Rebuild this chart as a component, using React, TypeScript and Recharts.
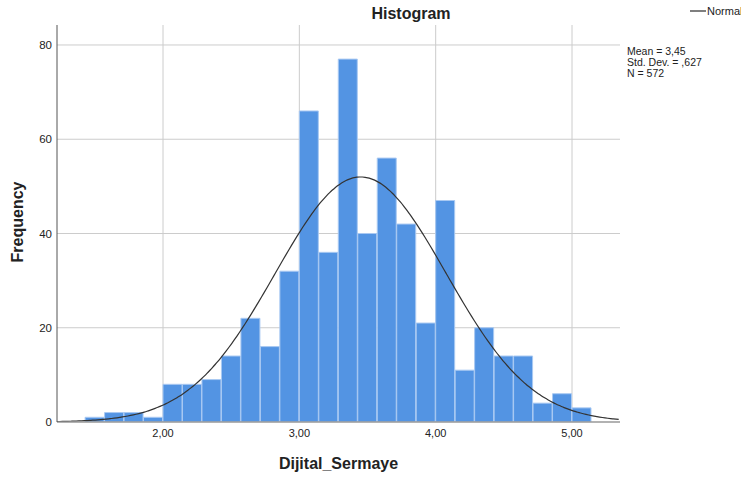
import React from "react";
import { ComposedChart, Bar, Line, XAxis, YAxis, CartesianGrid } from "recharts";

const binWidth = 1 / 7;
const firstBinStart = 10 / 7; // 1.4286
const counts = [1, 2, 2, 1, 8, 8, 9, 14, 22, 16, 32, 66, 36, 77, 40, 56, 42, 21, 47, 11, 20, 14, 14, 4, 6, 3];
const xTicks = [2, 3, 4, 5];
const yTicks = [0, 20, 40, 60, 80];
const mean = 3.45;
const stdDev = 0.627;
const nTotal = 572;
const statLines = ["Mean = 3,45", "Std. Dev. = ,627", "N = 572"];
const xDomain: [number, number] = [1.2225, 5.352];
const yDomain: [number, number] = [0, 84.24];

const barData = counts.map((c, i) => ({ x: firstBinStart + (i + 0.5) * binWidth, count: c }));

const curveData: { x: number; y: number }[] = [];
for (let x = xDomain[0]; x <= xDomain[1] + 1e-9; x += 0.02) {
  const z = (x - mean) / stdDev;
  curveData.push({ x, y: (nTotal * binWidth * Math.exp(-0.5 * z * z)) / (stdDev * Math.sqrt(2 * Math.PI)) });
}

const FONT = "'Liberation Sans', Arial, sans-serif";

export default function App() {
  return (
    <div style={{ position: "absolute", left: 0, top: 0, width: 741, height: 478, background: "#fff", fontFamily: FONT }}>
      <ComposedChart
        width={741}
        height={478}
        data={barData}
        margin={{ top: 25, right: 121, bottom: 0, left: 0 }}
        barCategoryGap={0}
        barGap={0}
      >
        <CartesianGrid stroke="#cccccc" strokeWidth={1} verticalValues={xTicks} horizontalValues={[20, 40, 60, 80]} />
        <XAxis
          dataKey="x"
          type="number"
          domain={xDomain}
          allowDataOverflow
          ticks={xTicks}
          tickFormatter={(v: number) => v.toFixed(2).replace(".", ",")}
          height={56}
          tickLine={false}
          tickSize={0}
          tickMargin={7}
          axisLine={{ stroke: "#999999", strokeWidth: 1.5 }}
          tick={{ fill: "#222", fontSize: 11, fontFamily: FONT }}
        />
        <XAxis xAxisId="c" dataKey="x" type="number" domain={xDomain} allowDataOverflow hide />
        <YAxis
          type="number"
          domain={yDomain}
          allowDataOverflow
          ticks={yTicks}
          width={57}
          tickLine={false}
          tickSize={0}
          tickMargin={5}
          axisLine={{ stroke: "#555555", strokeWidth: 1 }}
          tick={{ fill: "#222", fontSize: 11.5, fontFamily: FONT }}
        />
        <Bar dataKey="count" fill="#5394e3" stroke="#a9c9f2" strokeWidth={1} isAnimationActive={false} />
        <Line
          xAxisId="c"
          data={curveData}
          dataKey="y"
          type="monotone"
          dot={false}
          stroke="#333333"
          strokeWidth={1.2}
          isAnimationActive={false}
        />
      </ComposedChart>
      <svg width={741} height={478} style={{ position: "absolute", left: 0, top: 0, pointerEvents: "none" }}>
        <text x={411} y={19} textAnchor="middle" fontSize={16} fontWeight="bold" fill="#222" fontFamily={FONT}>
          Histogram
        </text>
        <text x={338.5} y={469} textAnchor="middle" fontSize={16} fontWeight="bold" fill="#222" fontFamily={FONT}>
          Dijital_Sermaye
        </text>
        <text transform="translate(23,222) rotate(-90)" textAnchor="middle" fontSize={16} fontWeight="bold" fill="#222" fontFamily={FONT}>
          Frequency
        </text>
        <line x1={690} y1={11} x2={706} y2={11} stroke="#555" strokeWidth={1.5} />
        <text x={707} y={15} fontSize={11} fill="#222" fontFamily={FONT}>
          Normal
        </text>
        {statLines.map((s, i) => (
          <text key={s} x={627} y={55 + i * 11} fontSize={10.5} fill="#222" fontFamily={FONT}>
            {s}
          </text>
        ))}
      </svg>
    </div>
  );
}
